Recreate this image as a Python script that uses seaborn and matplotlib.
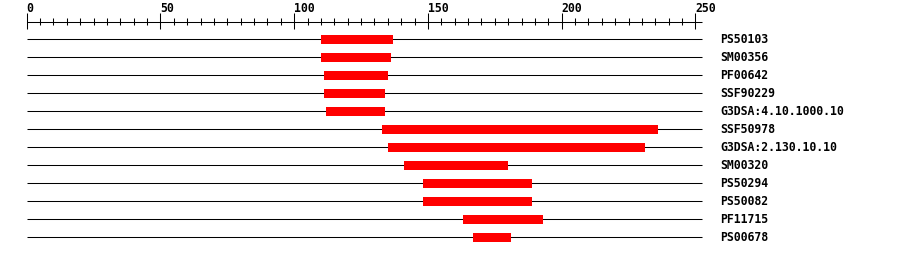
import matplotlib
matplotlib.use("Agg")
import matplotlib.pyplot as plt
import seaborn as sns
import numpy as np
import pandas as pd

# ---- data ----
domains = ["PS50103", "SM00356", "PF00642", "SSF90229", "G3DSA:4.10.1000.10",
           "SSF50978", "G3DSA:2.130.10.10", "SM00320", "PS50294", "PS50082",
           "PF11715", "PS00678"]
starts = [110, 110, 111, 111, 112, 133, 135, 141, 148, 148, 163, 167]
ends = [137, 136, 135, 134, 134, 236, 231, 180, 189, 189, 193, 181]
seq_length = 252.5
major_ticks = [0, 50, 100, 150, 200, 250]
minor_step = 5

df = pd.DataFrame({"domain": domains, "start": starts, "end": ends})

sns.set_theme(style="white")
plt.rcParams['font.family'] = ['DejaVu Sans Mono']

fig = plt.figure(figsize=(9.0, 2.56), dpi=100)
ax = fig.add_axes([0, 0, 1, 1])
ax.set_axis_off()

px_per_unit = 2.675
x0_px = 26.7
ax.set_xlim(-x0_px / px_per_unit, (900 - x0_px) / px_per_unit)
row_px = 18.0
first_row_px = 39.0
ax.set_ylim((256 - first_row_px) / row_px, -first_row_px / row_px)

def py(p):
    return (p - first_row_px) / row_px

lw = 0.75
# top scale
ax.hlines(py(21.7), 0, seq_length, color="black", lw=lw)
for t in np.arange(0, 251, minor_step):
    if t in major_ticks:
        ax.vlines(t, py(13.3), py(28.5), color="black", lw=lw)
    else:
        ax.vlines(t, py(17.7), py(25.3), color="black", lw=lw)
for t in major_ticks:
    ax.text(t, py(11.7), str(t), ha="left", va="baseline",
            fontsize=8.3, fontweight="bold", color="black")

# rows
rows = np.arange(len(df))
ax.hlines(rows, 0, seq_length, color="black", lw=lw)
ax.barh(rows, df["end"] - df["start"], left=df["start"], height=0.5,
        color="#ff0000", edgecolor="none", zorder=3)
for i, name in enumerate(df["domain"]):
    ax.text((720 - x0_px) / px_per_unit, i + 4.0 / row_px, name,
            ha="left", va="baseline", fontsize=8.3, fontweight="bold",
            color="black")

fig.savefig("out.png", dpi=100, facecolor="white")
